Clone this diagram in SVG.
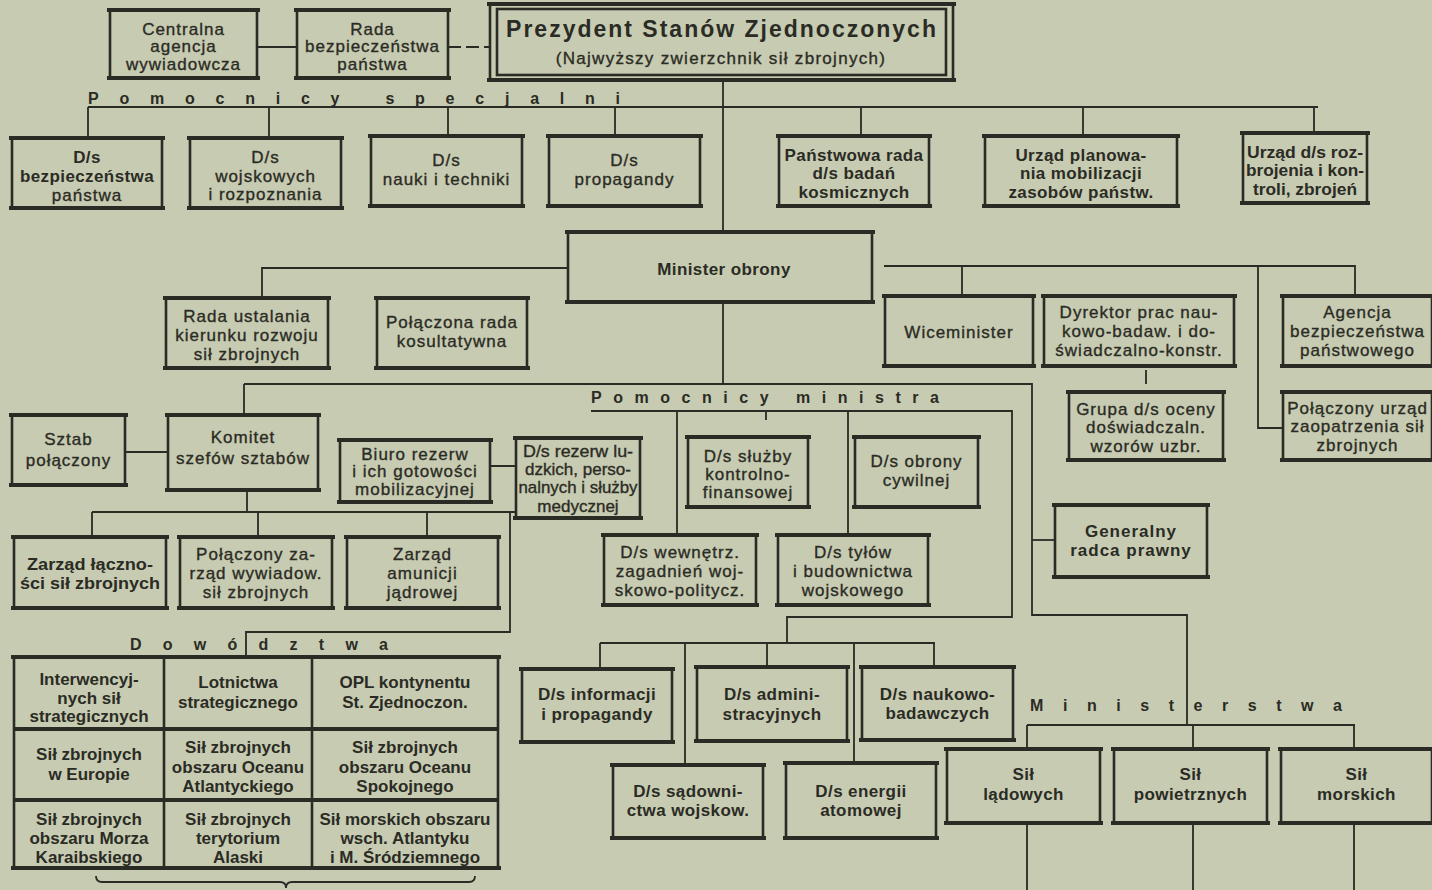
<svg xmlns="http://www.w3.org/2000/svg" width="1432" height="890" viewBox="0 0 1432 890">
<style>
.bg{fill:#c7cbb1}
.bx{fill:none;stroke:#2b2b25;stroke-width:2.6}
.bar{fill:none;stroke:#2b2b25;stroke-width:4.2}
.ln{fill:none;stroke:#2b2b25;stroke-width:1.8}
.t{font-family:"Liberation Sans",Arial,sans-serif;font-size:17px;fill:#2b2b25;stroke:#2b2b25;stroke-width:0.35px;text-anchor:middle;letter-spacing:1px}
.b{font-weight:bold;stroke-width:0;letter-spacing:0.4px}
.tb{font-weight:bold;stroke-width:0;letter-spacing:0}
.n{letter-spacing:0}
.lab{font-family:"Liberation Sans",Arial,sans-serif;font-size:16px;font-weight:bold;fill:#2b2b25}
</style>
<rect class="bg" x="0" y="0" width="1432" height="890"/>

<g id="connectors">
<path class="ln" d="M257 47H297"/>
<path class="ln" d="M448 47H490" stroke-dasharray="13 5"/>
<path class="ln" d="M723 80V232"/>
<path class="ln" d="M88 107H1318M88 107V138M269 107V138M448 107V136M615 107V136M861 107V136M1083 107V136M1314 107V133"/>
<path class="ln" d="M568 268H262V298"/>
<path class="ln" d="M884 266H1355V296M962 266V296M1258 266V428H1283M1146 370V384"/>
<path class="ln" d="M723 302V384"/>
<path class="ln" d="M244 384H1032V615H1187V725M244 384V415"/>
<path class="ln" d="M1027 725H1355M1027 725V749M1193 725V749M1354 725V749"/>
<path class="ln" d="M1027 823V890M1193 823V890M1354 823V890"/>
<path class="ln" d="M1032 540H1055"/>
<path class="ln" d="M591 411H1012V617H787V643M677 411V535M848 411V535M766 411V420"/>
<path class="ln" d="M600 643H935M600 643V669M685 643V765M767 643V667M854 643V763M934 643V667"/>
<path class="ln" d="M125 452H168M490 466H516"/>
<path class="ln" d="M247 490V512M92 512H516M92 512V537M258 512V537M427 512V537M510 512V632H246V657"/>
<path class="ln" d="M96 876Q96 882 102 882H280Q286 882 286 888Q286 882 292 882H469Q475 882 475 876" stroke-width="2.4"/>
</g>

<g id="labels">
<text class="lab" x="88" y="104" textLength="532" lengthAdjust="spacing">Pomocnicy specjalni</text>
<text class="lab" x="591" y="403" textLength="348" lengthAdjust="spacing">Pomocnicy ministra</text>
<text class="lab" x="130" y="650" textLength="258" lengthAdjust="spacing">Dowództwa</text>
<text class="lab" x="1030" y="711" textLength="312" lengthAdjust="spacing">Ministerstwa</text>
</g>

<g id="n-cia"><rect class="bx" x="110" y="10" width="147" height="68"/><path class="bar" d="M107 10H260M107 78H260"/>
<text class="t" x="183.5" y="35">Centralna</text><text class="t" x="183.5" y="52">agencja</text><text class="t" x="183.5" y="70">wywiadowcza</text></g>

<g id="n-rbp"><rect class="bx" x="297" y="10" width="151" height="68"/><path class="bar" d="M294 10H451M294 78H451"/>
<text class="t" x="372.5" y="35">Rada</text><text class="t" x="372.5" y="52">bezpieczeństwa</text><text class="t" x="372.5" y="70">państwa</text></g>

<g id="n-prezydent"><rect class="bx" x="490" y="4" width="463" height="76" stroke-width="3"/><rect class="bx" x="497" y="9" width="449" height="66" stroke-width="1.8"/><path class="bar" d="M487 4H956M487 80H956"/>
<text class="t b" x="722" y="37" style="font-size:23px;letter-spacing:2px">Prezydent Stanów Zjednoczonych</text>
<text class="t" x="721" y="64" style="letter-spacing:1.3px">(Najwyższy zwierzchnik sił zbrojnych)</text></g>

<g id="n-bezp"><rect class="bx" x="12" y="138" width="150" height="70"/><path class="bar" d="M9 138H165M9 208H165"/>
<text class="t b" x="87" y="163">D/s</text><text class="t b" x="87" y="182">bezpieczeństwa</text><text class="t" x="87" y="201">państwa</text></g>

<g id="n-wojsk"><rect class="bx" x="190" y="138" width="151" height="70"/><path class="bar" d="M187 138H344M187 208H344"/>
<text class="t" x="265.5" y="163">D/s</text><text class="t" x="265.5" y="182">wojskowych</text><text class="t" x="265.5" y="200">i rozpoznania</text></g>

<g id="n-nauki"><rect class="bx" x="371" y="136" width="151" height="70"/><path class="bar" d="M368 136H525M368 206H525"/>
<text class="t" x="446.5" y="166">D/s</text><text class="t" x="446.5" y="185">nauki i techniki</text></g>

<g id="n-prop"><rect class="bx" x="549" y="136" width="151" height="70"/><path class="bar" d="M546 136H703M546 206H703"/>
<text class="t" x="624.5" y="166">D/s</text><text class="t" x="624.5" y="185">propagandy</text></g>

<g id="n-kosm"><rect class="bx" x="779" y="136" width="150" height="70"/><path class="bar" d="M776 136H932M776 206H932"/>
<text class="t b" x="854" y="161">Państwowa rada</text><text class="t b" x="854" y="179">d/s badań</text><text class="t b" x="854" y="198">kosmicznych</text></g>

<g id="n-plan"><rect class="bx" x="985" y="136" width="192" height="70"/><path class="bar" d="M982 136H1180M982 206H1180"/>
<text class="t b" x="1081" y="161">Urząd planowa-</text><text class="t b" x="1081" y="179">nia mobilizacji</text><text class="t b" x="1081" y="198">zasobów państw.</text></g>

<g id="n-rozbr"><rect class="bx" x="1243" y="133" width="124" height="70"/><path class="bar" d="M1240 133H1370M1240 203H1370"/>
<text class="t tb" x="1305" y="158" textLength="116" lengthAdjust="spacingAndGlyphs">Urząd d/s roz-</text><text class="t tb" x="1305" y="176" textLength="118" lengthAdjust="spacingAndGlyphs">brojenia i kon-</text><text class="t tb" x="1305" y="195" textLength="104" lengthAdjust="spacingAndGlyphs">troli, zbrojeń</text></g>

<g id="n-minister"><rect class="bx" x="568" y="232" width="304" height="70"/><path class="bar" d="M565 232H875M565 302H875"/>
<text class="t b" x="724" y="275">Minister obrony</text></g>

<g id="n-rada-ust"><rect class="bx" x="166" y="298" width="162" height="70"/><path class="bar" d="M163 298H331M163 368H331"/>
<text class="t" x="247" y="322">Rada ustalania</text><text class="t" x="247" y="341">kierunku rozwoju</text><text class="t" x="247" y="360">sił zbrojnych</text></g>

<g id="n-rada-kons"><rect class="bx" x="377" y="298" width="150" height="70"/><path class="bar" d="M374 298H530M374 368H530"/>
<text class="t" x="452" y="328">Połączona rada</text><text class="t" x="452" y="347">kosultatywna</text></g>

<g id="n-wice"><rect class="bx" x="885" y="296" width="148" height="70"/><path class="bar" d="M882 296H1036M882 366H1036"/>
<text class="t" x="959" y="338">Wiceminister</text></g>

<g id="n-dyrektor"><rect class="bx" x="1044" y="296" width="190" height="70"/><path class="bar" d="M1041 296H1237M1041 366H1237"/>
<text class="t" x="1139" y="318">Dyrektor prac nau-</text><text class="t" x="1139" y="337">kowo-badaw. i do-</text><text class="t" x="1139" y="356">świadczalno-konstr.</text></g>

<g id="n-agencja"><rect class="bx" x="1283" y="296" width="149" height="70"/><path class="bar" d="M1280 296H1435M1280 366H1435"/>
<text class="t" x="1357.5" y="318">Agencja</text><text class="t" x="1357.5" y="337">bezpieczeństwa</text><text class="t" x="1357.5" y="356">państwowego</text></g>

<g id="n-grupa"><rect class="bx" x="1069" y="392" width="154" height="68"/><path class="bar" d="M1066 392H1226M1066 460H1226"/>
<text class="t" x="1146" y="415">Grupa d/s oceny</text><text class="t" x="1146" y="433">doświadczaln.</text><text class="t" x="1146" y="452">wzorów uzbr.</text></g>

<g id="n-zaop"><rect class="bx" x="1283" y="392" width="149" height="68"/><path class="bar" d="M1280 392H1435M1280 460H1435"/>
<text class="t" x="1357.5" y="414">Połączony urząd</text><text class="t" x="1357.5" y="432">zaopatrzenia sił</text><text class="t" x="1357.5" y="451">zbrojnych</text></g>

<g id="n-sztab"><rect class="bx" x="12" y="415" width="113" height="70"/><path class="bar" d="M9 415H128M9 485H128"/>
<text class="t" x="68.5" y="445">Sztab</text><text class="t" x="68.5" y="466">połączony</text></g>

<g id="n-komitet"><rect class="bx" x="168" y="415" width="150" height="75"/><path class="bar" d="M165 415H321M165 490H321"/>
<text class="t" x="243" y="443">Komitet</text><text class="t" x="243" y="464">szefów sztabów</text></g>

<g id="n-biuro"><rect class="bx" x="340" y="440" width="150" height="62"/><path class="bar" d="M337 440H493M337 502H493"/>
<text class="t" x="415" y="460">Biuro rezerw</text><text class="t" x="415" y="477">i ich gotowości</text><text class="t" x="415" y="495">mobilizacyjnej</text></g>

<g id="n-rezerw"><rect class="bx" x="516" y="438" width="124" height="80"/><path class="bar" d="M513 438H643M513 518H643"/>
<text class="t n" x="578" y="457" textLength="110" lengthAdjust="spacingAndGlyphs">D/s rezerw lu-</text><text class="t n" x="578" y="475" textLength="106" lengthAdjust="spacingAndGlyphs">dzkich, perso-</text><text class="t n" x="578" y="493" textLength="119" lengthAdjust="spacingAndGlyphs">nalnych i służby</text><text class="t n" x="578" y="512">medycznej</text></g>

<g id="n-kontrol"><rect class="bx" x="688" y="437" width="120" height="70"/><path class="bar" d="M685 437H811M685 507H811"/>
<text class="t" x="748" y="462">D/s służby</text><text class="t" x="748" y="480">kontrolno-</text><text class="t" x="748" y="498">finansowej</text></g>

<g id="n-obrony"><rect class="bx" x="855" y="437" width="123" height="70"/><path class="bar" d="M852 437H981M852 507H981"/>
<text class="t" x="916.5" y="467">D/s obrony</text><text class="t" x="916.5" y="486">cywilnej</text></g>

<g id="n-wewn"><rect class="bx" x="604" y="535" width="152" height="70"/><path class="bar" d="M601 535H759M601 605H759"/>
<text class="t" x="680" y="558">D/s wewnętrz.</text><text class="t" x="680" y="577">zagadnień woj-</text><text class="t" x="680" y="596">skowo-politycz.</text></g>

<g id="n-tylow"><rect class="bx" x="778" y="535" width="150" height="70"/><path class="bar" d="M775 535H931M775 605H931"/>
<text class="t" x="853" y="558">D/s tyłów</text><text class="t" x="853" y="577">i budownictwa</text><text class="t" x="853" y="596">wojskowego</text></g>

<g id="n-lacznosc"><rect class="bx" x="14" y="537" width="152" height="71"/><path class="bar" d="M11 537H169M11 608H169"/>
<text class="t tb" x="90" y="570" textLength="126" lengthAdjust="spacingAndGlyphs">Zarząd łączno-</text><text class="t tb" x="90" y="589" textLength="140" lengthAdjust="spacingAndGlyphs">ści sił zbrojnych</text></g>

<g id="n-wywiad"><rect class="bx" x="180" y="537" width="152" height="71"/><path class="bar" d="M177 537H335M177 608H335"/>
<text class="t" x="256" y="560">Połączony za-</text><text class="t" x="256" y="579">rząd wywiadow.</text><text class="t" x="256" y="598">sił zbrojnych</text></g>

<g id="n-amunicja"><rect class="bx" x="347" y="537" width="151" height="71"/><path class="bar" d="M344 537H501M344 608H501"/>
<text class="t" x="422.5" y="560">Zarząd</text><text class="t" x="422.5" y="579">amunicji</text><text class="t" x="422.5" y="598">jądrowej</text></g>

<g id="n-radca"><rect class="bx" x="1055" y="505" width="152" height="72"/><path class="bar" d="M1052 505H1210M1052 577H1210"/>
<text class="t b" x="1131" y="537" style="letter-spacing:1px">Generalny</text><text class="t b" x="1131" y="556" style="letter-spacing:1px">radca prawny</text></g>

<g id="n-informacji"><rect class="bx" x="522" y="669" width="150" height="73"/><path class="bar" d="M519 669H675M519 742H675"/>
<text class="t b" x="597" y="700">D/s informacji</text><text class="t b" x="597" y="720">i propagandy</text></g>

<g id="n-admin"><rect class="bx" x="697" y="667" width="150" height="74"/><path class="bar" d="M694 667H850M694 741H850"/>
<text class="t b" x="772" y="700">D/s admini-</text><text class="t b" x="772" y="720">stracyjnych</text></g>

<g id="n-naukowo"><rect class="bx" x="862" y="667" width="151" height="73"/><path class="bar" d="M859 667H1016M859 740H1016"/>
<text class="t b" x="937.5" y="700">D/s naukowo-</text><text class="t b" x="937.5" y="719">badawczych</text></g>

<g id="n-sadown"><rect class="bx" x="613" y="765" width="150" height="73"/><path class="bar" d="M610 765H766M610 838H766"/>
<text class="t b" x="688" y="797">D/s sądowni-</text><text class="t b" x="688" y="816">ctwa wojskow.</text></g>

<g id="n-energii"><rect class="bx" x="786" y="763" width="150" height="75"/><path class="bar" d="M783 763H939M783 838H939"/>
<text class="t b" x="861" y="797">D/s energii</text><text class="t b" x="861" y="816">atomowej</text></g>

<g id="n-ladowe"><rect class="bx" x="947" y="749" width="153" height="74"/><path class="bar" d="M944 749H1103M944 823H1103"/>
<text class="t b" x="1023.5" y="780">Sił</text><text class="t b" x="1023.5" y="800">lądowych</text></g>

<g id="n-powietrzne"><rect class="bx" x="1114" y="749" width="153" height="74"/><path class="bar" d="M1111 749H1270M1111 823H1270"/>
<text class="t b" x="1190.5" y="780">Sił</text><text class="t b" x="1190.5" y="800">powietrznych</text></g>

<g id="n-morskie"><rect class="bx" x="1281" y="749" width="151" height="74"/><path class="bar" d="M1278 749H1435M1278 823H1435"/>
<text class="t b" x="1356.5" y="780">Sił</text><text class="t b" x="1356.5" y="800">morskich</text></g>

<g id="n-dowodztwa">
<rect class="bx" x="14" y="657" width="484" height="211"/>
<path class="bar" d="M11 657H501M11 868H501M14 729H498M14 800H498"/>
<path class="bx" d="M164 657V868M312 657V868"/>
<text class="t tb" x="89" y="685">Interwencyj-</text><text class="t tb" x="89" y="704">nych sił</text><text class="t tb" x="89" y="722">strategicznych</text>
<text class="t tb" x="238" y="688">Lotnictwa</text><text class="t tb" x="238" y="708">strategicznego</text>
<text class="t tb" x="405" y="688">OPL kontynentu</text><text class="t tb" x="405" y="708">St. Zjednoczon.</text>
<text class="t tb" x="89" y="760">Sił zbrojnych</text><text class="t tb" x="89" y="780">w Europie</text>
<text class="t tb" x="238" y="753">Sił zbrojnych</text><text class="t tb" x="238" y="773">obszaru Oceanu</text><text class="t tb" x="238" y="792">Atlantyckiego</text>
<text class="t tb" x="405" y="753">Sił zbrojnych</text><text class="t tb" x="405" y="773">obszaru Oceanu</text><text class="t tb" x="405" y="792">Spokojnego</text>
<text class="t tb" x="89" y="825">Sił zbrojnych</text><text class="t tb" x="89" y="844">obszaru Morza</text><text class="t tb" x="89" y="863">Karaibskiego</text>
<text class="t tb" x="238" y="825">Sił zbrojnych</text><text class="t tb" x="238" y="844">terytorium</text><text class="t tb" x="238" y="863">Alaski</text>
<text class="t tb" x="405" y="825">Sił morskich obszaru</text><text class="t tb" x="405" y="844">wsch. Atlantyku</text><text class="t tb" x="405" y="863">i M. Śródziemnego</text>
</g>
</svg>
